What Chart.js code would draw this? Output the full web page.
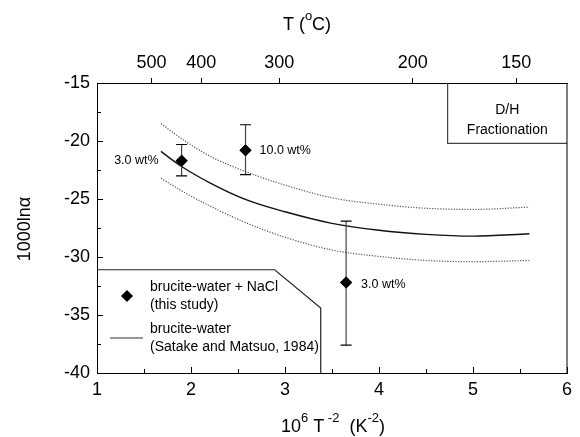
<!DOCTYPE html>
<html>
<head>
<meta charset="utf-8">
<script src="https://cdn.jsdelivr.net/npm/chart.js@4/dist/chart.umd.min.js"></script>
<style>
  body { margin: 0; background: #fff; }
  #wrap { width: 580px; height: 437px; }
</style>
</head>
<body>
<div id="wrap"><canvas id="chart"></canvas></div>
<script>
// brucite-water curve (Satake and Matsuo, 1984) and its envelope
const curveX = [1.68, 1.9, 2.2, 2.6, 3.0, 3.5, 4.0, 4.5, 5.0, 5.6];
const solidY = [-20.9, -22.2, -23.6, -25.1, -26.1, -27.1, -27.7, -28.05, -28.2, -28.0];
const upperY = [-18.5, -19.8, -21.3, -22.7, -23.8, -24.9, -25.45, -25.8, -25.9, -25.7];
const lowerY = [-23.2, -24.3, -25.6, -27.1, -28.3, -29.4, -29.95, -30.3, -30.4, -30.3];

// this study: brucite-water + NaCl
const ptX = [1.9, 2.58, 3.65];
const ptY = [-21.7, -20.8, -32.2];
const ptLow = [-23.0, -22.9, -37.6];
const ptHigh = [-20.3, -18.6, -26.9];
const ptLabels = ['3.0 wt%', '10.0 wt%', '3.0 wt%'];

// top temperature axis (positions)
const topTickX = [1.58, 2.11, 2.94, 4.36, 5.46];
const topTickLabels = ['500', '400', '300', '200', '150'];

// boxes drawn inside the plot
const legendBoxX = [1, 2.89, 3.38, 3.38];
const legendBoxY = [-31.1, -31.1, -34.4, -40];
const dhBoxX = [4.73, 4.73, 6];
const dhBoxY = [-15, -20.2, -20.2];

const FONT = '"Liberation Sans", Arial, sans-serif';

function pts(xs, ys) {
    return xs.map((x, i) => ({ x: x, y: ys[i] }));
}

function drawRich(ctx, parts, cx, cy) {
    let total = 0;
    parts.forEach(p => {
        ctx.font = (p.sup ? 13 : 18) + 'px ' + FONT;
        p.w = ctx.measureText(p.t).width;
        total += p.w;
    });
    let x = cx - total / 2;
    ctx.textAlign = 'left';
    ctx.textBaseline = 'middle';
    parts.forEach(p => {
        ctx.font = (p.sup ? 13 : 18) + 'px ' + FONT;
        ctx.fillText(p.t, x, p.sup ? cy - 9 : cy);
        x += p.w;
    });
}

const extras = {
    id: 'extras',
    afterDatasetsDraw(chart) {
        const ctx = chart.ctx;
        const xs = chart.scales.x, ys = chart.scales.y;
        const a = chart.chartArea;
        ctx.save();

        // error bars
        ptX.forEach((v, i) => {
            const px = xs.getPixelForValue(v);
            const lo = ys.getPixelForValue(ptLow[i]);
            const hi = ys.getPixelForValue(ptHigh[i]);
            ctx.strokeStyle = '#444';
            ctx.lineWidth = 1.2;
            ctx.beginPath();
            ctx.moveTo(px, lo); ctx.lineTo(px, hi);
            ctx.stroke();
            ctx.strokeStyle = '#000';
            ctx.beginPath();
            ctx.moveTo(px - 5.5, lo); ctx.lineTo(px + 5.5, lo);
            ctx.moveTo(px - 5.5, hi); ctx.lineTo(px + 5.5, hi);
            ctx.stroke();
        });

        // redraw diamonds on top of the bars
        ctx.fillStyle = '#000';
        ptX.forEach((v, i) => {
            const px = xs.getPixelForValue(v), py = ys.getPixelForValue(ptY[i]);
            ctx.beginPath();
            ctx.moveTo(px - 6, py); ctx.lineTo(px, py - 6);
            ctx.lineTo(px + 6, py); ctx.lineTo(px, py + 6);
            ctx.closePath();
            ctx.fill();
        });

        // point labels
        ctx.font = '12.5px ' + FONT;
        ctx.textBaseline = 'middle';
        const offs = [[-23, 0, 'right'], [14, 0, 'left'], [15, 2, 'left']];
        ptX.forEach((v, i) => {
            ctx.textAlign = offs[i][2];
            ctx.fillText(ptLabels[i], xs.getPixelForValue(v) + offs[i][0], ys.getPixelForValue(ptY[i]) + offs[i][1]);
        });

        // legend contents
        const lx = a.left;
        ctx.beginPath();
        ctx.moveTo(lx + 24, 296); ctx.lineTo(lx + 30, 290);
        ctx.lineTo(lx + 36, 296); ctx.lineTo(lx + 30, 302);
        ctx.closePath();
        ctx.fill();
        ctx.strokeStyle = '#333';
        ctx.lineWidth = 1.2;
        ctx.beginPath();
        ctx.moveTo(lx + 13, 338); ctx.lineTo(lx + 46, 338);
        ctx.stroke();
        ctx.font = '14px ' + FONT;
        ctx.textAlign = 'left';
        ctx.fillText('brucite-water + NaCl', lx + 53, 287);
        ctx.fillText('(this study)', lx + 53, 305);
        ctx.fillText('brucite-water', lx + 53, 329);
        ctx.fillText('(Satake and Matsuo, 1984)', lx + 53, 347);

        // D/H box text
        const bx = (xs.getPixelForValue(dhBoxX[0]) + a.right) / 2;
        ctx.textAlign = 'center';
        ctx.fillText('D/H', bx, 110);
        ctx.fillText('Fractionation', bx, 130);

        // frame right edge
        ctx.strokeStyle = '#000';
        ctx.lineWidth = 1;
        ctx.beginPath();
        ctx.moveTo(a.right, a.top); ctx.lineTo(a.right, a.bottom);
        ctx.stroke();

        // inward ticks
        ctx.lineWidth = 1;
        ctx.beginPath();
        for (let v = 1; v <= 6.001; v += 0.5) {
            const px = Math.round(xs.getPixelForValue(v)) + 0.5;
            const len = Number.isInteger(v) ? 6 : 4;
            ctx.moveTo(px, a.bottom); ctx.lineTo(px, a.bottom - len);
        }
        for (let v = -40; v <= -15; v += 2.5) {
            const py = Math.round(ys.getPixelForValue(v)) + 0.5;
            const len = (v % 5 === 0) ? 6 : 4;
            ctx.moveTo(a.left, py); ctx.lineTo(a.left + len, py);
        }
        ctx.stroke();

        // axis titles
        ctx.fillStyle = '#000';
        drawRich(ctx, [{ t: 'T (' }, { t: 'o', sup: true }, { t: 'C)' }], 307, 25);
        drawRich(ctx, [{ t: '10' }, { t: '6', sup: true }, { t: ' T' }, { t: ' -2', sup: true },
            { t: '  (K' }, { t: '-2', sup: true }, { t: ')' }], 333, 427);
        ctx.save();
        ctx.translate(25, 229);
        ctx.rotate(-Math.PI / 2);
        ctx.font = '18px ' + FONT;
        ctx.textAlign = 'center';
        ctx.textBaseline = 'middle';
        ctx.fillText('1000ln\u03B1', 0, 0);
        ctx.restore();

        ctx.restore();
    }
};

const tickFont = { family: FONT, size: 18 };

new Chart(document.getElementById('chart'), {
    type: 'scatter',
    data: {
        datasets: [
            { data: pts(curveX, upperY), showLine: true, borderColor: '#555', borderWidth: 1.2,
              borderDash: [1.2, 1.5], pointRadius: 0, tension: 0.4, cubicInterpolationMode: 'monotone' },
            { data: pts(curveX, solidY), showLine: true, borderColor: '#111', borderWidth: 1.4,
              pointRadius: 0, tension: 0.4, cubicInterpolationMode: 'monotone' },
            { data: pts(curveX, lowerY), showLine: true, borderColor: '#555', borderWidth: 1.2,
              borderDash: [1.2, 1.5], pointRadius: 0, tension: 0.4, cubicInterpolationMode: 'monotone' },
            { data: pts(legendBoxX, legendBoxY), showLine: true, borderColor: '#222', borderWidth: 1.2,
              pointRadius: 0, tension: 0 },
            { data: pts(dhBoxX, dhBoxY), showLine: true, borderColor: '#444', borderWidth: 1.2,
              pointRadius: 0, tension: 0 },
            { data: pts(ptX, ptY), pointStyle: 'rectRot', pointRadius: 6, backgroundColor: '#000',
              borderWidth: 0 }
        ]
    },
    options: {
        responsive: true,
        maintainAspectRatio: false,
        animation: false,
        layout: { padding: { left: 0, right: 13, top: 0, bottom: 0 } },
        plugins: { legend: { display: false }, tooltip: { enabled: false } },
        scales: {
            x: {
                type: 'linear', position: 'bottom', min: 1, max: 6,
                ticks: { stepSize: 1, color: '#000', font: tickFont, padding: 6 },
                grid: { drawOnChartArea: false, drawTicks: false },
                border: { display: true, color: '#000', width: 1 },
                afterFit(s) { s.height = 64; }
            },
            x2: {
                type: 'linear', position: 'top', min: 1, max: 6,
                afterBuildTicks(s) { s.ticks = topTickX.map(v => ({ value: v })); },
                ticks: {
                    color: '#000', font: tickFont, padding: 4, autoSkip: false, maxRotation: 0,
                    callback: (v, i) => topTickLabels[i]
                },
                grid: { drawOnChartArea: false, drawTicks: true, tickLength: 5, tickColor: '#000' },
                border: { display: true, color: '#000', width: 1 },
                afterFit(s) { s.height = 83; }
            },
            y: {
                type: 'linear', min: -40, max: -15,
                ticks: { stepSize: 5, color: '#000', font: tickFont, padding: 7 },
                grid: { drawOnChartArea: false, drawTicks: false },
                border: { display: true, color: '#000', width: 1 },
                afterFit(s) { s.width = 97; }
            }
        }
    },
    plugins: [extras]
});
</script>
</body>
</html>
